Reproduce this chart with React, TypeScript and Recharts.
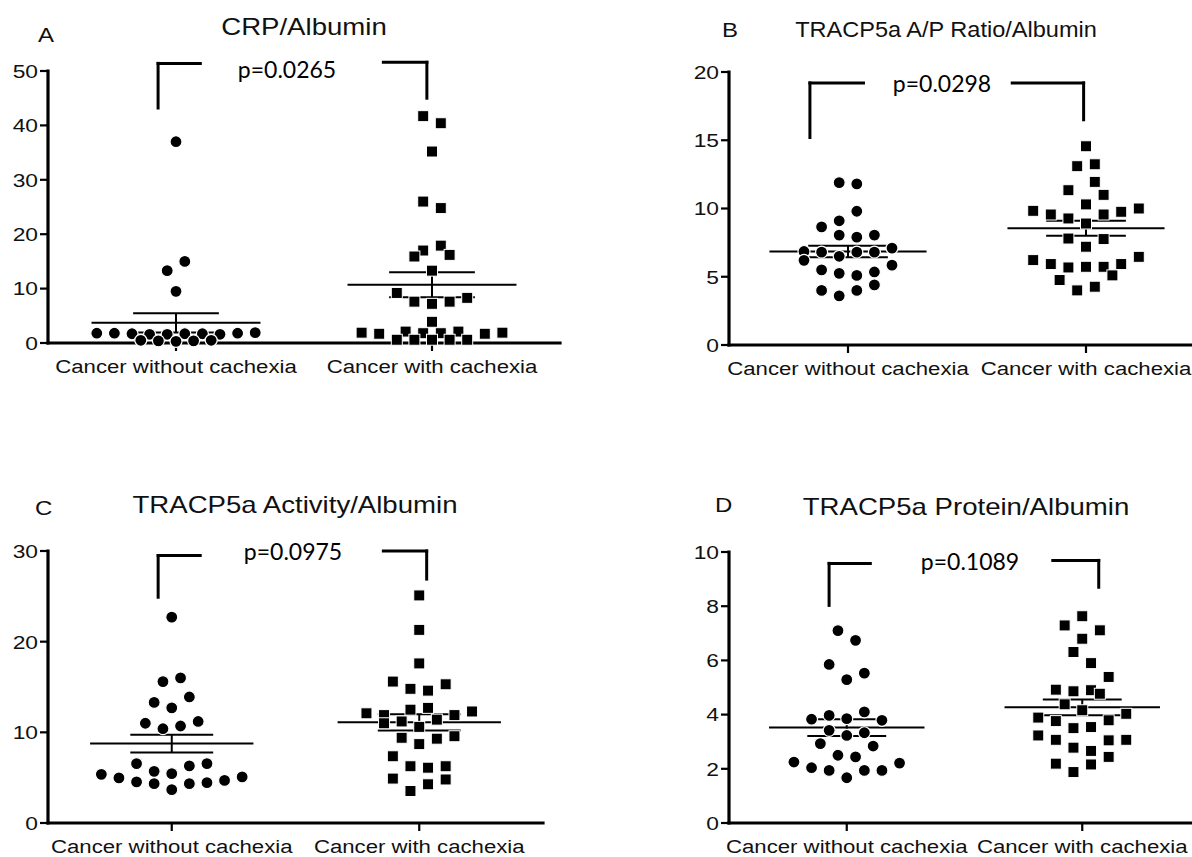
import { ReferenceLine, Scatter, ScatterChart, XAxis, YAxis } from 'recharts'

const categories = ['Cancer without cachexia', 'Cancer with cachexia']
const groupX = [1, 3]

const titles = ['CRP/Albumin', 'TRACP5a A/P Ratio/Albumin', 'TRACP5a Activity/Albumin', 'TRACP5a Protein/Albumin']
const letters = ['A', 'B', 'C', 'D']
const pValues = ['p=0.0265', 'p=0.0298', 'p=0.0975', 'p=0.1089']

// A - CRP/Albumin
const crpTicks = [0, 10, 20, 30, 40, 50]
const crpWithout = [37.0, 15.0, 13.3, 9.5, 1.8, 1.8, 1.7, 1.6, 1.6, 1.7, 1.7, 1.6, 1.8, 1.9, 0.5, 0.4, 0.3, 0.4, 0.5]
const crpWithoutSlot = [0, 0.5, -0.5, 0, -4.5, -3.5, -2.5, -1.5, -0.5, 0.5, 1.5, 2.5, 3.5, 4.5, -2, -1, 0, 1, 2]
const crpWith = [41.7, 40.4, 35.2, 26.0, 24.8, 17.0, 17.9, 15.9, 16.2, 13.3, 9.2, 7.6, 7.2, 7.6, 8.3, 3.9, 1.9, 1.7, 2.1, 1.8, 1.8, 2.1, 1.7, 1.9, 0.6, 0.6, 0.6, 0.6, 0.6]
const crpWithSlot = [-0.5, 0.5, 0, -0.5, 0.5, -0.5, 0.5, -1, 1, 0, -2, -1, 0, 1, 2, 0, -4, -3, -1.5, -0.5, 0.5, 1.5, 3, 4, -2, -1, 0, 1, 2]
const crpMean = [3.7, 10.7]
const crpSem = [1.75, 2.3]

// B - TRACP5a A/P ratio/Albumin
const ratioTicks = [0, 5, 10, 15, 20]
const ratioWithout = [11.9, 11.8, 9.8, 9.1, 8.65, 8.05, 7.9, 8.05, 7.1, 6.85, 6.2, 6.8, 6.5, 6.8, 6.8, 5.85, 5.5, 5.25, 5.1, 5.35, 4.0, 3.6, 4.0, 4.4]
const ratioWithoutSlot = [-0.5, 0.5, 0.5, -0.5, -1.5, -0.5, 0.5, 1.5, 2.5, -2.5, -2.5, -1.5, -0.5, 0.5, 1.5, 2.5, -1.5, -0.5, 0.5, 1.5, -1.5, -0.5, 0.5, 1.5]
const ratioWith = [14.56, 13.1, 13.24, 11.95, 11.34, 11.0, 10.3, 9.83, 9.56, 9.27, 9.56, 9.76, 10.0, 8.9, 7.8, 7.76, 7.2, 6.22, 5.93, 5.68, 5.73, 5.73, 5.93, 6.46, 5.1, 4.76, 4.0, 4.27]
const ratioWithSlot = [0, -0.5, 0.5, 0.5, -1, 1, 0, -3, -2, -1, 1, 2, 3, 0, -1, 1, 0, -3, -2, -1, 0, 1, 2, 3, 1.5, -1.5, -0.5, 0.5]
const ratioMean = [6.85, 8.55]
const ratioSem = [0.42, 0.55]

// C - TRACP5a activity/Albumin
const activityTicks = [0, 10, 20, 30]
const activityWithout = [22.7, 15.6, 16.0, 13.3, 12.7, 13.9, 11.0, 10.4, 10.7, 11.2, 6.55, 5.7, 5.45, 6.3, 6.55, 5.37, 4.97, 4.53, 4.34, 3.68, 4.34, 4.45, 4.7, 5.08]
const activityWithoutSlot = [0, -0.5, 0.5, -1, 0, 1, -1.5, -0.5, 0.5, 1.5, -2, -1, 0, 1, 2, -4, -3, -2, -1, 0, 1, 2, 3, 4]
const activityWith = [25.1, 21.3, 17.6, 15.6, 14.8, 14.6, 15.3, 12.1, 11.9, 12.5, 12.7, 11.9, 12.3, 11.0, 11.2, 10.6, 11.4, 9.4, 8.7, 9.3, 9.57, 7.36, 6.26, 6.1, 6.26, 4.9, 4.27, 4.8, 3.53]
const activityWithSlot = [0, 0, 0, -1.5, -0.5, 0.5, 1.5, -3, -2, -0.5, 0.5, 2, 3, -2, -1, 0, 1, -1, 0, 1, 2, -1.5, -0.5, 0.5, 1.5, -1.5, 0.5, 1.5, -0.5]
const activityMean = [8.76, 11.1]
const activitySem = [0.98, 0.9]

// D - TRACP5a protein/Albumin
const proteinTicks = [0, 2, 4, 6, 8, 10]
const proteinWithout = [7.1, 6.74, 5.85, 5.53, 5.29, 3.83, 3.97, 3.85, 4.1, 3.79, 3.42, 3.23, 3.33, 2.93, 2.84, 2.5, 2.44, 2.25, 2.04, 1.94, 1.67, 1.94, 1.94, 2.21]
const proteinWithoutSlot = [-0.5, 0.5, -1, 1, 0, -2, -1, 0, 1, 2, -1, 0, 1, -1.5, 1.5, -0.5, 0.5, -3, -2, -1, 0, 1, 2, 3]
const proteinWith = [7.63, 7.29, 7.11, 6.8, 6.31, 5.9, 5.39, 4.92, 4.86, 4.9, 4.77, 4.38, 4.16, 3.89, 3.76, 3.79, 4.03, 3.5, 3.54, 3.23, 3.07, 3.05, 3.07, 2.78, 2.66, 2.44, 2.19, 1.88, 2.16]
const proteinWithSlot = [0, -1, 1, 0, -0.5, 0.5, 1.5, -1.5, -0.5, 0.5, 1, -1, 0, -2.5, -1.5, 1.5, 2.5, -0.5, 0.5, -2.5, -1.5, 1.5, 2.5, -0.5, 0.5, 1.5, -1.5, -0.5, 0.5]
const proteinMean = [3.52, 4.27]
const proteinSem = [0.31, 0.29]

const INK = '#111'
const ARIAL = '"Liberation Sans", Arial, sans-serif'
const STRETCH = 1.2 // the source figure is widened horizontally
const DOT_PX = 17.6

type Seg = [number, number, number, number]

const panels = [
  {
    left: 48, top: 71, w: 512, h: 272, ticks: crpTicks,
    groups: [[crpWithout, crpWithoutSlot], [crpWith, crpWithSlot]], mean: crpMean, sem: crpSem,
    bracket: [[0.86, 43.2, 0.86, 51.4], [0.86, 51.4, 1.19, 51.4], [2.62, 51.6, 2.96, 51.6], [2.96, 51.6, 2.96, 45.0]] as Seg[],
  },
  {
    left: 729, top: 72, w: 476, h: 273, ticks: ratioTicks,
    groups: [[ratioWithout, ratioWithoutSlot], [ratioWith, ratioWithSlot]], mean: ratioMean, sem: ratioSem,
    bracket: [[0.68, 15.2, 0.68, 19.2], [0.68, 19.2, 1.13, 19.2], [2.38, 19.2, 2.98, 19.2], [2.98, 19.2, 2.98, 16.5]] as Seg[],
  },
  {
    left: 48, top: 551, w: 495, h: 272, ticks: activityTicks,
    groups: [[activityWithout, activityWithoutSlot], [activityWith, activityWithSlot]], mean: activityMean, sem: activitySem,
    bracket: [[0.89, 24.9, 0.89, 29.5], [0.89, 29.5, 1.23, 29.5], [2.71, 30.0, 3.06, 30.0], [3.06, 30.0, 3.06, 26.9]] as Seg[],
  },
  {
    left: 729, top: 552, w: 471, h: 271, ticks: proteinTicks,
    groups: [[proteinWithout, proteinWithoutSlot], [proteinWith, proteinWithSlot]], mean: proteinMean, sem: proteinSem,
    bracket: [[0.85, 8.03, 0.85, 9.58], [0.85, 9.58, 1.2, 9.58], [2.75, 9.69, 3.14, 9.69], [3.14, 9.69, 3.14, 8.7]] as Seg[],
  },
]

// text placement for letters, titles and p values (page pixels)
const textPos = [
  { letter: [38, 42], title: [304, 35], titleSize: 23, titleStretch: STRETCH, p: [287, 78] },
  { letter: [722, 37], title: [946, 37], titleSize: 22, titleStretch: 1.07, p: [942, 92] },
  { letter: [35, 515], title: [295, 513], titleSize: 23, titleStretch: STRETCH, p: [293, 560] },
  { letter: [715, 512], title: [966, 515], titleSize: 23, titleStretch: STRETCH, p: [970, 570] },
]

function XTick({ x, y, payload }: any) {
  const label = categories[groupX.indexOf(payload.value)]
  return (
    <text transform={`translate(${x},${y + 20}) scale(1.18,1)`} textAnchor="middle" fontFamily={ARIAL} fontSize={18.8} fill={INK}>
      {label}
    </text>
  )
}

function YTick({ x, y, payload }: any) {
  return (
    <text transform={`translate(${x},${y}) scale(${STRETCH},1)`} textAnchor="end" dy="0.36em" fontFamily={ARIAL} fontSize={19} fill={INK}>
      {payload.value}
    </text>
  )
}

const Dot = (p: any) => <circle cx={p.cx} cy={p.cy} r={6} fill="#000" stroke="#fff" strokeWidth={1.2} />
const Square = (p: any) => <rect x={p.cx - 5.5} y={p.cy - 5.5} width={11} height={11} fill="#000" stroke="#fff" strokeWidth={1} />

const tickStroke = { stroke: '#000', strokeWidth: 2.2 }

function Panel({ spec }: { spec: (typeof panels)[number] }) {
  const unit = spec.w / 4
  const yMax = spec.ticks[spec.ticks.length - 1]
  const series = spec.groups.map(([vals, slots], g) =>
    vals.map((v, i) => ({ x: groupX[g] + (slots[i] * DOT_PX) / unit, y: v })),
  )
  const line = { stroke: '#000', strokeWidth: 2, ifOverflow: 'visible' as const }
  const axis = { stroke: '#000', strokeWidth: 3.2, strokeLinecap: 'square' as const, ifOverflow: 'visible' as const }
  return (
    <div style={{ position: 'absolute', left: spec.left - 48, top: spec.top - 40 }}>
      <ScatterChart width={spec.w + 58} height={spec.h + 90} margin={{ top: 40, right: 10, bottom: 0, left: 0 }}>
        <XAxis
          type="number"
          dataKey="x"
          domain={[0, 4]}
          ticks={groupX}
          height={50}
          tickSize={8}
          tickMargin={2}
          axisLine={false}
          tickLine={tickStroke}
          tick={<XTick />}
        />
        <YAxis
          type="number"
          dataKey="y"
          domain={[0, yMax]}
          ticks={spec.ticks}
          width={48}
          tickSize={8}
          tickMargin={2}
          axisLine={false}
          tickLine={tickStroke}
          tick={<YTick />}
        />
        <ReferenceLine segment={[{ x: 0, y: 0 }, { x: 0, y: yMax }]} {...axis} />
        <ReferenceLine segment={[{ x: 0, y: 0 }, { x: 4, y: 0 }]} {...axis} />
        {groupX.map((gx, g) => [
          <ReferenceLine key={`m${g}`} segment={[{ x: gx - 0.66, y: spec.mean[g] }, { x: gx + 0.66, y: spec.mean[g] }]} {...line} />,
          <ReferenceLine key={`u${g}`} segment={[{ x: gx - 0.335, y: spec.mean[g] + spec.sem[g] }, { x: gx + 0.335, y: spec.mean[g] + spec.sem[g] }]} {...line} />,
          <ReferenceLine key={`l${g}`} segment={[{ x: gx - 0.335, y: spec.mean[g] - spec.sem[g] }, { x: gx + 0.335, y: spec.mean[g] - spec.sem[g] }]} {...line} />,
          <ReferenceLine key={`v${g}`} segment={[{ x: gx, y: spec.mean[g] - spec.sem[g] }, { x: gx, y: spec.mean[g] + spec.sem[g] }]} {...line} />,
        ])}
        {spec.bracket.map((s, i) => (
          <ReferenceLine
            key={`b${i}`}
            segment={[{ x: s[0], y: s[1] }, { x: s[2], y: s[3] }]}
            stroke="#000"
            strokeWidth={3}
            strokeLinecap="square"
            ifOverflow="visible"
          />
        ))}
        <Scatter data={series[0]} shape={Dot} isAnimationActive={false} />
        <Scatter data={series[1]} shape={Square} isAnimationActive={false} />
      </ScatterChart>
    </div>
  )
}

export default function App() {
  return (
    <div style={{ position: 'absolute', left: 0, top: 0, width: 1192, height: 857, overflow: 'hidden', background: '#fff' }}>
      {panels.map((p, i) => (
        <Panel key={i} spec={p} />
      ))}
      <svg width={1192} height={857} style={{ position: 'absolute', left: 0, top: 0, pointerEvents: 'none' }}>
        {textPos.map((t, i) => (
          <g key={i} fill={INK}>
            <text transform={`translate(${t.letter[0]},${t.letter[1]}) scale(${STRETCH},1)`} fontFamily={ARIAL} fontSize={20}>
              {letters[i]}
            </text>
            <text
              transform={`translate(${t.title[0]},${t.title[1]}) scale(${t.titleStretch},1)`}
              textAnchor="middle"
              fontFamily={ARIAL}
              fontSize={t.titleSize}
            >
              {titles[i]}
            </text>
            <text x={t.p[0]} y={t.p[1]} textAnchor="middle" fontFamily="Lato, 'Open Sans', sans-serif" fontSize={23} fill="#000">
              {pValues[i]}
            </text>
          </g>
        ))}
      </svg>
    </div>
  )
}
